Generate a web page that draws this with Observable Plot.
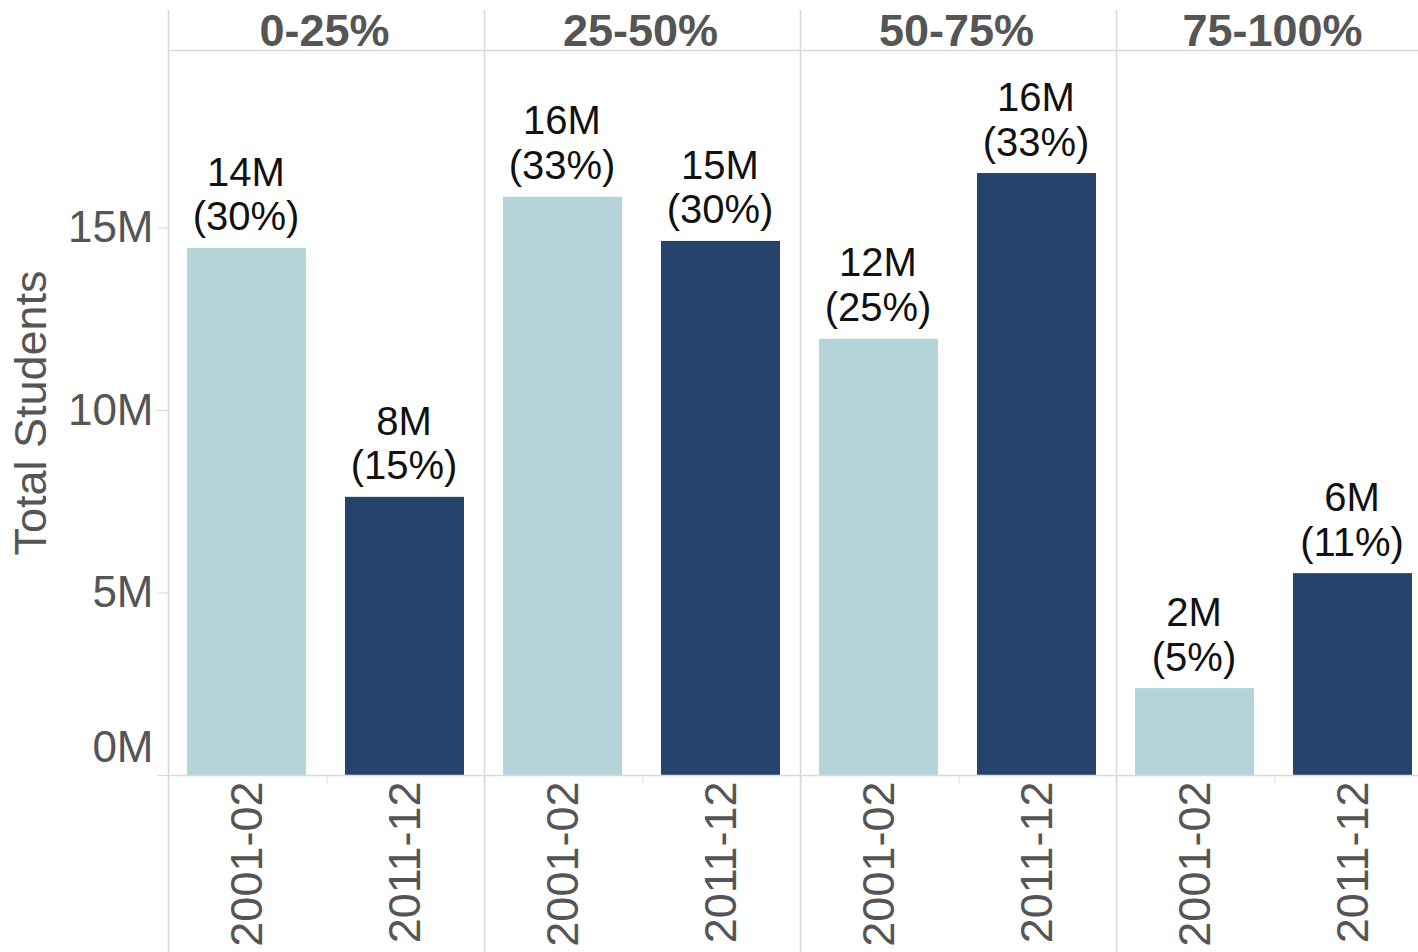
<!DOCTYPE html>
<html>
<head>
<meta charset="utf-8">
<script src="https://cdn.jsdelivr.net/npm/d3@7"></script>
<script src="https://cdn.jsdelivr.net/npm/@observablehq/plot@0.6"></script>
<style>
  html, body { margin: 0; padding: 0; background: #fff; overflow: hidden; }
  #wrap { width: 1418px; height: 952px; overflow: hidden; }
  #wrap svg { max-width: none !important; width: 1432px; height: 952px; }
  #wrap g[aria-label="y-axis label"] text { font-size: 45px !important; }
</style>
</head>
<body>
<div id="wrap"></div>
<script>
const categories = ["0-25%", "25-50%", "50-75%", "75-100%"];
const years = ["2001-02", "2011-12"];
const students2001 = [14.44, 15.84, 11.95, 2.38];   // millions
const students2011 = [7.62, 14.63, 16.49, 5.53];    // millions
const pct2001 = [30, 33, 25, 5];
const pct2011 = [15, 30, 33, 11];
const yTicks = [0, 5, 10, 15];
const yMax = 19.86;
const colors = ["#b4d4da", "#26446b"];

const rows = [];
categories.forEach((c, i) => {
  rows.push({cat: c, year: years[0], value: students2001[i], pct: pct2001[i]});
  rows.push({cat: c, year: years[1], value: students2011[i], pct: pct2011[i]});
});

const lineColor = "#d9d9d9";
const textGray = "#555555";

const chart = Plot.plot({
  width: 1432,
  height: 952,
  marginLeft: 168,
  marginRight: 0,
  marginTop: 50,
  marginBottom: 177,
  style: {fontFamily: "'Liberation Sans', Arial, sans-serif", fontSize: "40px", background: "#fff", maxWidth: "none"},
  fx: {domain: categories, padding: 0},
  x: {domain: years, paddingInner: 0.25, paddingOuter: 0.125},
  y: {domain: [0, yMax]},
  color: {domain: years, range: colors},
  marks: [
    Plot.frame({anchor: "left", stroke: lineColor, strokeWidth: 1.6, insetTop: -40, insetBottom: -180}),
    Plot.frame({anchor: "top", stroke: lineColor, strokeWidth: 1.6}),
    Plot.barY(rows, {fx: "cat", x: "year", y: "value", fill: "year", dx: -1}),
    Plot.frame({anchor: "bottom", stroke: lineColor, strokeWidth: 1.6}),
    Plot.text(rows, {
      fx: "cat", x: "year", y: "value",
      text: d => `${Math.round(d.value)}M\n(${d.pct}%)`,
      lineAnchor: "bottom", lineHeight: 1.12, dy: -18, dx: -2,
      fontSize: 40, fill: "#111"
    }),
    Plot.axisFx({anchor: "top", tickSize: 0, tickPadding: 3, dy: -2, dx: -2, fontSize: 45, fontWeight: "bold", color: textGray, label: null}),
    Plot.axisX({tickRotate: -90, tickSize: 0, tickPadding: 6, fontSize: 45, color: textGray, label: null}),
    Plot.axisX({tickSize: 8, tickFormat: () => "", dx: 79, stroke: lineColor, label: null}),
    Plot.axisY(yTicks, {
      tickSize: 11, tickPadding: 4, stroke: lineColor, fill: textGray, fontSize: 44,
      tickFormat: d => d === 0 ? "" : `${d}M`,
      label: "Total Students", labelAnchor: "center", labelOffset: 154, labelArrow: "none"
    }),
    Plot.axisY([0], {tickSize: 0, tickPadding: 15, dy: -28, fill: textGray, fontSize: 44, tickFormat: d => `${d}M`, label: null})
  ]
});
document.getElementById("wrap").appendChild(chart);
</script>
</body>
</html>
